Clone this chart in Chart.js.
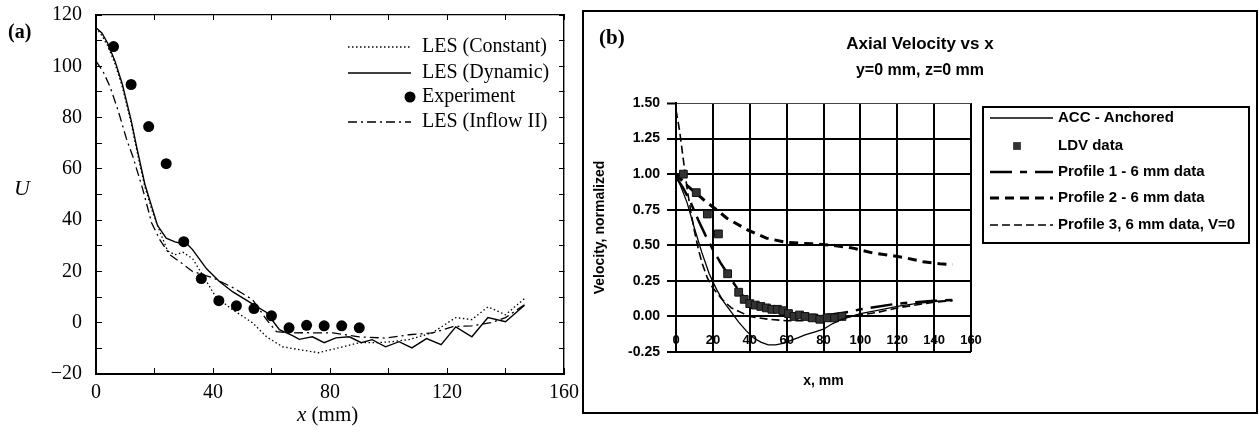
<!DOCTYPE html>
<html>
<head>
<meta charset="utf-8">
<script src="https://cdn.jsdelivr.net/npm/chart.js@4.4.1/dist/chart.umd.min.js"></script>
<style>
html, body { margin: 0; padding: 0; background: #fff; }
body { width: 1259px; height: 433px; position: relative; overflow: hidden; }
#wrapA { position: absolute; left: 0; top: 0; width: 580px; height: 433px; }
#wrapB { position: absolute; left: 582px; top: 10px; width: 672px; height: 400px; border: 2px solid #000; }
canvas { display: block; }
</style>
</head>
<body>
<div id="wrapA"><canvas id="chartA" width="580" height="433"></canvas></div>
<div id="wrapB"><canvas id="chartB" width="672" height="400"></canvas></div>
<script>
// ---------- Panel (a): axial velocity U along x ----------
const lesConstX = [0, 2, 4, 6.5, 9, 12, 14, 16.7, 19.4, 22, 24.5, 27, 29.7, 33, 36.5, 41, 46.8, 53.5, 58.3, 63.8, 69.5, 76, 83, 90, 96, 101, 107, 115, 123, 128.5, 134, 140, 146.5];
const lesConstU = [115, 112, 108, 101, 92, 78, 67, 53, 43, 35, 28, 26.5, 27.5, 25, 18.5, 10, 5, 0, -5.5, -9.4, -10.5, -11.7, -9.8, -7.8, -7.8, -7.4, -6.6, -3.9, 2, 1.2, 6.2, 3.1, 9.4];

const lesDynX = [0, 2, 4, 6.5, 9, 12, 14, 16.7, 19.4, 21, 24, 27, 29, 30.5, 33, 37.8, 42.3, 46.8, 52.5, 58.3, 62.7, 67.2, 69.5, 72, 74, 78, 82, 86.6, 90.7, 94.4, 99, 103.6, 108, 113, 118, 123, 128.5, 134, 140, 146.5];
const lesDynU = [115, 113, 109, 102, 93, 79, 68, 54, 44, 38, 33, 31.5, 31, 31.5, 28.5, 21, 16, 12, 8, 4, -2.7, -5, -6.5, -5.9, -5.5, -7.8, -5.9, -5.5, -7.8, -6.6, -9.4, -7.4, -9.8, -6.2, -8.6, -1.6, -5.5, 2, 0.4, 6.8];

const expX = [6, 12, 18, 24, 30, 36, 42, 48, 54, 60, 66, 72, 78, 84, 90];
const expU = [107.7, 92.9, 76.5, 62, 31.6, 17.2, 8.6, 6.6, 5.5, 2.7, -2, -1, -1.2, -1.2, -2];

const inflowX = [0, 2.4, 4.8, 7.5, 10.5, 12.6, 16, 19, 21.8, 25.2, 28.6, 33, 40, 46.8, 53.5, 58.3, 61.7, 66, 72, 81, 90, 99, 107, 115, 122, 128.5, 135, 140, 146.5];
const inflowU = [102, 98, 92, 83, 71.4, 64.8, 52, 39, 32.4, 26.5, 23.8, 20, 17.5, 13.7, 9, 1.2, -3.5, -4, -3.9, -4, -5.5, -6, -4.7, -4, -1.5, -1.2, 0, 2, 7];

const xTicksA = [0, 20, 40, 60, 80, 100, 120, 140, 160];
const xLabelsA = [0, 40, 80, 120, 160];
const yTicksA = [-20, -10, 0, 10, 20, 30, 40, 50, 60, 70, 80, 90, 100, 110, 120];
const yLabelsA = [-20, 0, 20, 40, 60, 80, 100, 120];

// ---------- Panel (b): normalized axial velocity ----------
const accX = [0, 3, 6, 10, 14, 18, 22, 26, 30, 34, 38, 42, 46, 50, 54, 58, 62, 66, 70, 75, 80, 85, 90, 95, 100, 110, 120, 130, 140, 150];
const accV = [1.0, 0.9, 0.8, 0.62, 0.45, 0.3, 0.19, 0.1, 0.03, -0.04, -0.1, -0.15, -0.18, -0.2, -0.2, -0.19, -0.17, -0.15, -0.13, -0.11, -0.09, -0.05, -0.02, 0.0, 0.02, 0.045, 0.07, 0.09, 0.105, 0.115];

const ldvX = [4, 11, 17, 23, 28, 34, 37, 40, 43, 46, 49, 52, 55, 58, 61, 64, 67, 70, 74, 78, 82, 86, 90];
const ldvV = [1.0, 0.87, 0.72, 0.58, 0.3, 0.17, 0.12, 0.09, 0.08, 0.07, 0.06, 0.05, 0.05, 0.04, 0.02, 0.0, 0.01, 0.0, -0.01, -0.02, -0.01, -0.01, 0.0];

const prof1X = [0, 4, 8, 12, 16, 20, 24, 28, 32, 36, 40, 45, 50, 55, 60, 65, 70, 75, 80, 85, 90, 95, 100, 110, 120, 130, 140, 150];
const prof1V = [0.98, 0.9, 0.8, 0.68, 0.57, 0.47, 0.38, 0.3, 0.22, 0.15, 0.09, 0.06, 0.05, 0.04, 0.03, 0.02, 0.015, 0.01, 0.01, 0.015, 0.025, 0.035, 0.05, 0.07, 0.09, 0.1, 0.11, 0.115];

const prof2X = [0, 6, 15, 22, 27.6, 38.5, 49, 60, 74, 85, 96, 107, 116, 125, 134, 143, 150];
const prof2V = [1.0, 0.92, 0.82, 0.75, 0.69, 0.61, 0.55, 0.52, 0.51, 0.5, 0.48, 0.445, 0.43, 0.41, 0.385, 0.37, 0.365];

const prof3X = [0, 1, 2, 3, 4, 5, 6, 8, 10, 12, 14, 17, 20, 25, 30, 40, 50, 60, 70, 80, 90, 100, 110, 120, 130, 140, 150];
const prof3V = [1.45, 1.38, 1.3, 1.2, 1.1, 1.0, 0.9, 0.74, 0.6, 0.48, 0.38, 0.27, 0.2, 0.12, 0.06, 0.0, -0.02, -0.03, -0.03, -0.02, -0.01, 0.01, 0.03, 0.06, 0.08, 0.1, 0.11];

const xTicksB = [0, 20, 40, 60, 80, 100, 120, 140, 160];
const yTicksB = [-0.25, 0, 0.25, 0.5, 0.75, 1.0, 1.25, 1.5];

// ---------- helpers ----------
const serif = "'Liberation Serif', 'Times New Roman', serif";
const sans = "'Liberation Sans', Arial, sans-serif";
const pts = (xs, ys) => xs.map((x, i) => ({ x, y: ys[i] }));
const useTicks = arr => scale => { scale.ticks = arr.map(v => ({ value: v })); };
const noPad = s => { s.paddingLeft = 0; s.paddingRight = 0; s.paddingTop = 0; s.paddingBottom = 0; };
const signed = v => (v < 0 ? '\u2212' + Math.abs(v) : String(v));

// Text and key drawn on panel (a)
const panelAText = {
  id: 'panelAText',
  afterDraw(chart) {
    const ctx = chart.ctx;
    ctx.save();
    ctx.fillStyle = '#000';
    ctx.strokeStyle = '#000';
    ctx.textBaseline = 'middle';
    ctx.textAlign = 'left';
    ctx.font = 'bold 20px ' + serif;
    ctx.fillText('(a)', 8, 33);
    ctx.textAlign = 'center';
    ctx.font = 'italic 22px ' + serif;
    ctx.fillText('U', 22, 189);

    // axis caption: italic x followed by the unit
    ctx.textBaseline = 'alphabetic';
    ctx.textAlign = 'left';
    ctx.font = 'italic 21px ' + serif;
    ctx.fillText('x', 297, 421);
    const xw = ctx.measureText('x').width;
    ctx.font = '21px ' + serif;
    ctx.fillText(' (mm)', 297 + xw, 421);

    // key
    const rows = [47, 73, 97, 122];
    ctx.font = '20px ' + serif;
    ctx.textBaseline = 'middle';
    chart.data.datasets.forEach((ds, i) => {
      const y = rows[i];
      if (ds.showLine === false) {
        ctx.beginPath();
        ctx.arc(410, y, ds.pointRadius, 0, Math.PI * 2);
        ctx.fill();
      } else {
        ctx.beginPath();
        ctx.lineWidth = ds.borderWidth;
        ctx.setLineDash(ds.borderDash || []);
        ctx.moveTo(348, y);
        ctx.lineTo(411, y);
        ctx.stroke();
        ctx.setLineDash([]);
      }
      ctx.fillText(ds.label, 422, y);
    });
    ctx.restore();
  }
};

const lineDs = (label, data, extra) => Object.assign({
  label, data, showLine: true, fill: false, tension: 0,
  xAxisID: 'x', yAxisID: 'y',
  borderColor: '#000', backgroundColor: '#000', borderWidth: 1.3,
  pointRadius: 0, pointHoverRadius: 0
}, extra);

new Chart(document.getElementById('chartA'), {
  type: 'scatter',
  data: {
    datasets: [
      lineDs('LES (Constant)', pts(lesConstX, lesConstU), { borderDash: [1.5, 2.5], borderWidth: 1.3 }),
      lineDs('LES (Dynamic)', pts(lesDynX, lesDynU), { borderWidth: 1.4 }),
      { label: 'Experiment', data: pts(expX, expU), showLine: false, xAxisID: 'x', yAxisID: 'y',
        pointRadius: 5.5, pointHoverRadius: 5.5,
        backgroundColor: '#000', borderColor: '#000', borderWidth: 0 },
      lineDs('LES (Inflow II)', pts(inflowX, inflowU), { borderDash: [9, 4, 2, 4], borderWidth: 1.3 })
    ]
  },
  options: {
    responsive: false,
    animation: false,
    layout: { padding: 0 },
    plugins: { legend: { display: false }, tooltip: { enabled: false } },
    scales: {
      x: {
        type: 'linear', position: 'bottom', min: 0, max: 160,
        afterBuildTicks: useTicks(xTicksA),
        afterFit: s => { s.height = 59; noPad(s); },
        ticks: { autoSkip: false, maxRotation: 0, padding: 13, color: '#000',
                 font: { family: serif, size: 20 },
                 callback: v => (xLabelsA.includes(v) ? signed(v) : '') },
        grid: { drawOnChartArea: false, tickLength: -6, color: '#000', lineWidth: 1 },
        border: { color: '#000', width: 2 }
      },
      y: {
        type: 'linear', position: 'left', min: -20, max: 120,
        afterBuildTicks: useTicks(yTicksA),
        afterFit: s => { s.width = 96; noPad(s); },
        ticks: { autoSkip: false, padding: 20, color: '#000',
                 font: { family: serif, size: 20 },
                 callback: v => (yLabelsA.includes(v) ? signed(v) : '') },
        grid: { drawOnChartArea: false, tickLength: -6, color: '#000', lineWidth: 1 },
        border: { color: '#000', width: 2 }
      },
      xTop: {
        type: 'linear', position: 'top', min: 0, max: 160,
        afterBuildTicks: useTicks(xTicksA),
        afterFit: s => { s.height = 15; noPad(s); },
        ticks: { display: false, autoSkip: false },
        grid: { drawOnChartArea: false, tickLength: -5, color: '#000', lineWidth: 1 },
        border: { color: '#000', width: 1.2 }
      },
      yRight: {
        type: 'linear', position: 'right', min: -20, max: 120,
        afterBuildTicks: useTicks(yTicksA),
        afterFit: s => { s.width = 16; noPad(s); },
        ticks: { display: false, autoSkip: false },
        grid: { drawOnChartArea: false, tickLength: -5, color: '#000', lineWidth: 1 },
        border: { color: '#000', width: 1.4 }
      }
    }
  },
  plugins: [panelAText]
});

// Framed key and panel tag for panel (b)
const panelBText = {
  id: 'panelBText',
  afterDraw(chart) {
    const ctx = chart.ctx;
    ctx.save();
    ctx.fillStyle = '#000';
    ctx.strokeStyle = '#000';
    ctx.textBaseline = 'middle';
    ctx.textAlign = 'left';
    ctx.font = 'bold 21px ' + serif;
    ctx.fillText('(b)', 15, 27);

    // key frame
    ctx.lineWidth = 2;
    ctx.strokeRect(399, 95, 266, 136);
    const rows = [106, 134, 160, 186, 213];
    ctx.font = 'bold 15px ' + sans;
    chart.data.datasets.forEach((ds, i) => {
      const y = rows[i];
      if (ds.showLine === false) {
        const h = Math.SQRT1_2 * ds.pointRadius;
        ctx.fillStyle = ds.backgroundColor;
        ctx.fillRect(433 - h, y - h, 2 * h, 2 * h);
        ctx.fillStyle = '#000';
      } else {
        ctx.beginPath();
        ctx.lineWidth = ds.borderWidth;
        ctx.setLineDash(ds.borderDash || []);
        ctx.moveTo(406, y);
        ctx.lineTo(469, y);
        ctx.stroke();
        ctx.setLineDash([]);
      }
      ctx.fillText(ds.label, 474, y);
    });
    ctx.restore();
  }
};

const bTickFont = { family: sans, size: 13, weight: 'bold' };

new Chart(document.getElementById('chartB'), {
  type: 'scatter',
  data: {
    datasets: [
      lineDs('ACC - Anchored', pts(accX, accV), { borderWidth: 1.3 }),
      { label: 'LDV data', data: pts(ldvX, ldvV), showLine: false, xAxisID: 'x', yAxisID: 'y',
        pointStyle: 'rect', pointRadius: 5.5, pointHoverRadius: 5.5,
        backgroundColor: '#333', borderColor: '#111', borderWidth: 1 },
      lineDs('Profile 1 - 6 mm data', pts(prof1X, prof1V), { borderDash: [22, 8, 7, 8], borderWidth: 2.5 }),
      lineDs('Profile 2 - 6 mm data', pts(prof2X, prof2V), { borderDash: [9, 6], borderWidth: 3 }),
      lineDs('Profile 3, 6 mm data, V=0', pts(prof3X, prof3V), { borderDash: [8, 4], borderWidth: 1.6 })
    ]
  },
  options: {
    responsive: false,
    animation: false,
    layout: { padding: 0 },
    plugins: {
      legend: { display: false },
      tooltip: { enabled: false },
      title: { display: true, text: 'Axial Velocity vs x', color: '#000',
               font: { family: sans, size: 17, weight: 'bold' }, padding: { top: 22, bottom: 2 } },
      subtitle: { display: true, text: 'y=0 mm, z=0 mm', color: '#000',
                  font: { family: sans, size: 16, weight: 'bold' }, padding: { top: 5, bottom: 22.4 } }
    },
    scales: {
      x: {
        type: 'linear', position: { y: 0 }, min: 0, max: 160,
        afterBuildTicks: useTicks(xTicksB),
        afterFit: noPad,
        ticks: { autoSkip: false, maxRotation: 0, padding: 16, color: '#000', font: bTickFont },
        grid: { color: '#000', lineWidth: 2, drawTicks: false },
        border: { display: false }
      },
      y: {
        type: 'linear', position: 'left', min: -0.25, max: 1.5,
        afterBuildTicks: useTicks(yTicksB),
        afterFit: s => { s.width = 92; noPad(s); },
        ticks: { autoSkip: false, padding: 7, color: '#000',
                 font: { family: sans, size: 14, weight: 'bold' },
                 callback: v => v.toFixed(2) },
        grid: { color: c => (c.tick && c.tick.value === 1.5 ? '#444' : '#000'),
                lineWidth: c => (c.tick && c.tick.value === 1.5 ? 1 : 2),
                tickLength: 9, tickColor: '#000', tickWidth: 2 },
        border: { color: '#000', width: 2 },
        title: { display: true, text: 'Velocity, normalized', color: '#000',
                 font: { family: sans, size: 14, weight: 'bold' }, padding: { top: 8, bottom: 0 } }
      },
      xCaption: {
        type: 'linear', position: 'bottom', min: 0, max: 160,
        afterFit: s => { s.height = 60; noPad(s); },
        ticks: { display: false },
        grid: { display: false },
        border: { display: false },
        title: { display: true, text: 'x, mm', color: '#000',
                 font: { family: sans, size: 14, weight: 'bold' }, padding: { top: 0, bottom: 22 } }
      },
      // empty strip on the right that holds the framed key
      keyStrip: {
        type: 'linear', axis: 'y', position: 'right',
        afterFit: s => { s.width = 285; noPad(s); },
        ticks: { display: false },
        grid: { display: false },
        border: { display: false }
      }
    }
  },
  plugins: [panelBText]
});
</script>
</body>
</html>
